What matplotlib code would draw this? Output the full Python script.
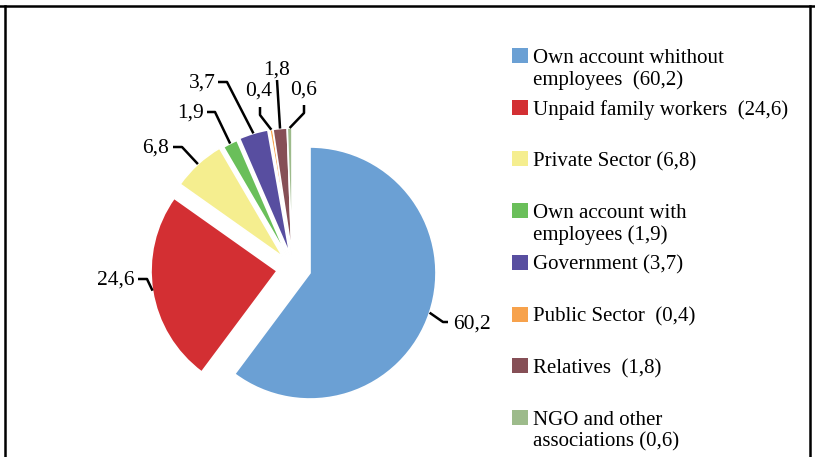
import numpy as np
import matplotlib.pyplot as plt
from matplotlib.patches import Rectangle
from matplotlib.lines import Line2D

plt.rcParams['font.family'] = ['Liberation Serif', 'DejaVu Serif']

W, H = 815, 457

# data
categories = ["Own account whithout employees", "Unpaid family workers",
              "Private Sector", "Own account with employees", "Government",
              "Public Sector", "Relatives", "NGO and other associations"]
shares = [60.2, 24.6, 6.8, 1.9, 3.7, 0.4, 1.8, 0.6]
value_labels = ["60,2", "24,6", "6,8", "1,9", "3,7", "0,4", "1,8", "0,6"]
legend_lines = [["Own account whithout", "employees  (60,2)"],
                ["Unpaid family workers  (24,6)"],
                ["Private Sector (6,8)"],
                ["Own account with", "employees (1,9)"],
                ["Government (3,7)"],
                ["Public Sector  (0,4)"],
                ["Relatives  (1,8)"],
                ["NGO and other", "associations (0,6)"]]
colors = ["#6BA0D4", "#D32F33", "#F5EE8F", "#6ABF5A", "#584EA0",
          "#F7A24C", "#864F56", "#9DBB8B"]

# layout (pixels, y from top)
pie_center = (310, 273)
pie_radius = 126
# exploded slice vertices (pixels), None = not exploded
slice_centers = [None, (277, 271), (283, 257), (287, 256), (290, 255),
                 (292, 255), (292, 255), (292, 255)]
slice_radius = [126, 126, 126, 126, 127, 127, 127, 127]

# label text position, alignment, and leader elbows (text side first)
label_pos = [(453, 324, 'left'), (135, 280, 'right'), (169, 148, 'right'),
             (204, 113, 'right'), (216, 83, 'right'), (259, 91, 'center'),
             (277, 70, 'center'), (304, 90, 'center')]
elbows = [[(448, 322), (443, 322)], [(138, 279), (147, 279)],
          [(173, 147), (182, 147)], [(207, 112), (215, 112)],
          [(218, 82), (227, 82)], [(260, 107), (260, 115)],
          [(277, 80)], [(304, 105), (304, 113)]]


def py(y):
    return H - y


fig = plt.figure(figsize=(W / 100, H / 100), dpi=100)
ax = fig.add_axes([0, 0, 1, 1])

wedges, _ = ax.pie(shares, colors=colors, startangle=90, counterclock=False,
                   radius=pie_radius, center=(pie_center[0], py(pie_center[1])),
                   wedgeprops=dict(edgecolor='white', linewidth=1.2))

for w, c, r in zip(wedges, slice_centers, slice_radius):
    if c is not None:
        w.set_center((c[0], py(c[1])))
    w.set_radius(r)

ax.set_xlim(0, W)
ax.set_ylim(0, H)
ax.set_aspect('auto')
ax.axis('off')

# data labels with leader lines
for w, lab, (tx, ty, ha), elb in zip(wedges, value_labels, label_pos, elbows):
    mid = np.deg2rad((w.theta1 + w.theta2) / 2)
    cx, cy = w.center
    ex = cx + w.r * np.cos(mid)
    ey = cy + w.r * np.sin(mid)
    xs = [p[0] for p in elb] + [ex]
    ys = [py(p[1]) for p in elb] + [ey]
    ax.plot(xs, ys, color='black', lw=1.8, solid_capstyle='butt')
    ax.text(tx, py(ty), lab, ha=ha, va='center', fontsize=15.5)

# legend
leg_x, leg_y0, leg_step, line_gap = 512, 63, 51.7, 22
for i, (c, lines) in enumerate(zip(colors, legend_lines)):
    base = leg_y0 + i * leg_step
    ax.add_patch(Rectangle((leg_x, py(base)), 16, 15, facecolor=c, edgecolor='none'))
    for j, t in enumerate(lines):
        ax.text(leg_x + 21, py(base + j * line_gap), t, ha='left', va='baseline',
                fontsize=15)

# frame (cropped chart border)
for xs, ys in [((0, 1), (1 - 6 / H, 1 - 6 / H)),
               ((5 / W, 5 / W), (0, 1 - 6 / H)),
               ((1 - 5 / W, 1 - 5 / W), (0, 1 - 6 / H))]:
    fig.add_artist(Line2D(xs, ys, color='black', lw=1.8))

fig.savefig('out.png', dpi=100)
